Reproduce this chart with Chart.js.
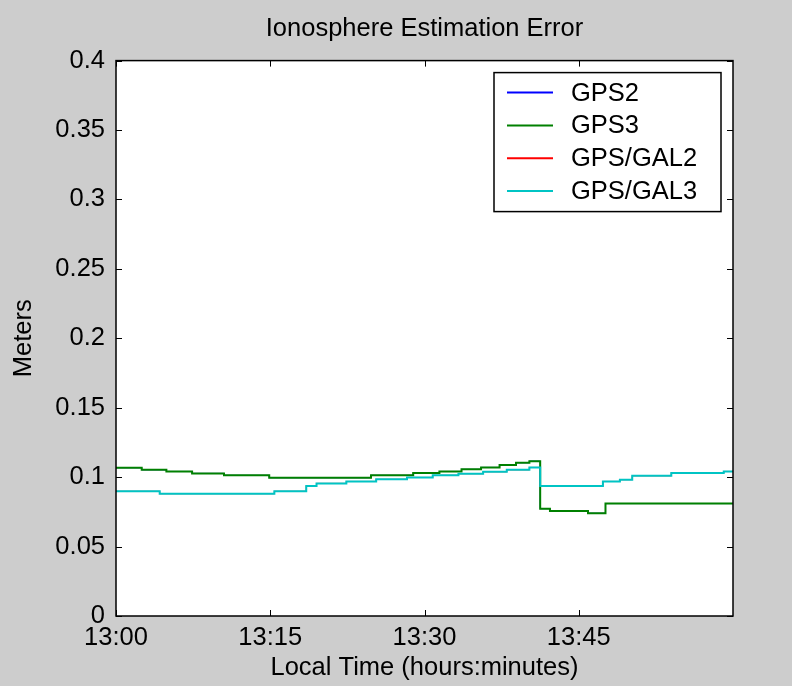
<!DOCTYPE html>
<html>
<head>
<meta charset="utf-8">
<script src="https://cdn.jsdelivr.net/npm/chart.js@4/dist/chart.umd.min.js"></script>
<style>
  body { margin: 0; background: #cdcdcd; }
  #wrap { width: 792px; height: 686px; }
</style>
</head>
<body>
<div id="wrap"><canvas id="ionoChart"></canvas></div>
<script>
// minutes after 13:00 where each step starts
const gpsTimes = [0, 2.5, 4.9, 7.4, 10.5, 14.9, 24.8, 28.9, 31.45, 33.6, 35.5, 37.3, 38.9, 40.2, 41.25, 42.2, 45.9, 47.6, 60];
const gps2Values = [0.1068, 0.1053, 0.1041, 0.1027, 0.1013, 0.0996, 0.1013, 0.1029, 0.1041, 0.1056, 0.107, 0.1087, 0.1104, 0.1115, 0.0773, 0.0756, 0.074, 0.081, 0.081];
const gps3Values = [0.1068, 0.1053, 0.1041, 0.1027, 0.1013, 0.0996, 0.1013, 0.1029, 0.1041, 0.1056, 0.107, 0.1087, 0.1104, 0.1115, 0.0773, 0.0756, 0.074, 0.081, 0.081];

const galTimes = [0, 4.25, 15.4, 18.5, 19.5, 22.4, 25.3, 28.3, 30.8, 33.3, 35.7, 38.0, 40.2, 41.25, 47.35, 49.0, 50.2, 54.0, 59.1, 60];
const gal2Values = [0.0898, 0.0881, 0.0898, 0.0936, 0.0955, 0.0969, 0.0984, 0.0998, 0.1013, 0.1025, 0.1039, 0.1053, 0.107, 0.0936, 0.0969, 0.0982, 0.101, 0.1029, 0.1041, 0.1041];
const gal3Values = [0.0898, 0.0881, 0.0898, 0.0936, 0.0955, 0.0969, 0.0984, 0.0998, 0.1013, 0.1025, 0.1039, 0.1053, 0.107, 0.0936, 0.0969, 0.0982, 0.101, 0.1029, 0.1041, 0.1041];

const xTickValues = [0, 15, 30, 45];
const xTickLabels = ['13:00', '13:15', '13:30', '13:45'];

const FONT = '"Liberation Sans", Arial, sans-serif';

function toPoints(times, values) {
  return times.map((t, i) => ({ x: t, y: values[i] }));
}

// gray figure, white axes, black box with inward ticks, boxed legend
const matlabFrame = {
  id: 'matlabFrame',
  beforeDraw(chart) {
    const { ctx, chartArea: a } = chart;
    ctx.save();
    ctx.fillStyle = '#cdcdcd';
    ctx.fillRect(0, 0, chart.width, chart.height);
    ctx.fillStyle = '#ffffff';
    ctx.fillRect(a.left, a.top, a.right - a.left, a.bottom - a.top);
    ctx.restore();
  },
  afterDatasetsDraw(chart) {
    const { ctx, chartArea: a, scales } = chart;
    ctx.save();
    ctx.strokeStyle = '#000';
    ctx.lineWidth = 1.5;
    ctx.strokeRect(a.left, a.top, a.right - a.left, a.bottom - a.top);
    ctx.lineWidth = 1;
    const len = 6;
    ctx.beginPath();
    scales.x.ticks.forEach(t => {
      const px = Math.round(scales.x.getPixelForValue(t.value)) + 0.5;
      ctx.moveTo(px, a.bottom); ctx.lineTo(px, a.bottom - len);
      ctx.moveTo(px, a.top); ctx.lineTo(px, a.top + len);
    });
    scales.y.ticks.forEach(t => {
      const py = Math.round(scales.y.getPixelForValue(t.value)) + 0.5;
      ctx.moveTo(a.left, py); ctx.lineTo(a.left + len, py);
      ctx.moveTo(a.right, py); ctx.lineTo(a.right - len, py);
    });
    ctx.stroke();

    // legend
    const bx = a.right - 239, by = a.top + 12, bw = 227, bh = 139;
    ctx.fillStyle = '#fff';
    ctx.fillRect(bx, by, bw, bh);
    ctx.strokeStyle = '#000';
    ctx.lineWidth = 1.5;
    ctx.strokeRect(bx, by, bw, bh);
    ctx.font = '25.5px ' + FONT;
    ctx.textBaseline = 'middle';
    ctx.textAlign = 'left';
    chart.data.datasets.forEach((ds, i) => {
      const y = by + 20 + i * 32.8;
      ctx.strokeStyle = ds.borderColor;
      ctx.lineWidth = 2;
      ctx.beginPath();
      ctx.moveTo(bx + 13, y); ctx.lineTo(bx + 59, y);
      ctx.stroke();
      ctx.fillStyle = '#000';
      ctx.fillText(ds.label, bx + 77, y + 1);
    });
    ctx.restore();
  }
};

const ctx = document.getElementById('ionoChart').getContext('2d');
const ionoChart = new Chart(ctx, {
  type: 'line',
  data: {
    datasets: [
      { label: 'GPS2', data: toPoints(gpsTimes, gps2Values), borderColor: '#0000ff', borderWidth: 1, order: 4 },
      { label: 'GPS3', data: toPoints(gpsTimes, gps3Values), borderColor: '#008000', order: 3 },
      { label: 'GPS/GAL2', data: toPoints(galTimes, gal2Values), borderColor: '#ff0000', borderWidth: 1, order: 2 },
      { label: 'GPS/GAL3', data: toPoints(galTimes, gal3Values), borderColor: '#00c4c4', order: 1 }
    ]
  },
  options: {
    responsive: true,
    maintainAspectRatio: false,
    animation: false,
    layout: { padding: { left: 0, right: 59, top: 0, bottom: 0 } },
    elements: {
      line: { borderWidth: 2, stepped: 'before', tension: 0 },
      point: { radius: 0 }
    },
    scales: {
      x: {
        type: 'linear',
        min: 0,
        max: 60,
        afterBuildTicks(scale) {
          scale.ticks = xTickValues.map(v => ({ value: v }));
        },
        afterFit(scale) { scale.height = 70; },
        grid: { display: false, drawTicks: false },
        border: { display: false },
        ticks: {
          color: '#000',
          padding: 7,
          maxRotation: 0,
          font: { family: FONT, size: 25.5 },
          callback: (v) => xTickLabels[xTickValues.indexOf(v)] ?? ''
        },
        title: {
          display: true,
          text: 'Local Time (hours:minutes)',
          color: '#000',
          font: { family: FONT, size: 25.5, lineHeight: 1.2 },
          padding: { top: 0, bottom: 3 }
        }
      },
      y: {
        min: 0,
        max: 0.4,
        afterFit(scale) { scale.width = 116; },
        grid: { display: false, drawTicks: false },
        border: { display: false },
        ticks: {
          stepSize: 0.05,
          color: '#000',
          padding: 11,
          font: { family: FONT, size: 25.5 },
          callback: (v) => String(Number(v.toFixed(2)))
        },
        title: {
          display: true,
          text: 'Meters',
          color: '#000',
          font: { family: FONT, size: 25.5, lineHeight: 1.2 },
          padding: { top: 9, bottom: 0 }
        }
      }
    },
    plugins: {
      legend: { display: false },
      tooltip: { enabled: false },
      title: {
        display: true,
        fullSize: false,
        text: 'Ionosphere Estimation Error',
        color: '#000',
        font: { family: FONT, size: 25.5, weight: 'normal', lineHeight: 1.2 },
        padding: { top: 14, bottom: 16 }
      }
    }
  },
  plugins: [matlabFrame]
});
</script>
</body>
</html>
